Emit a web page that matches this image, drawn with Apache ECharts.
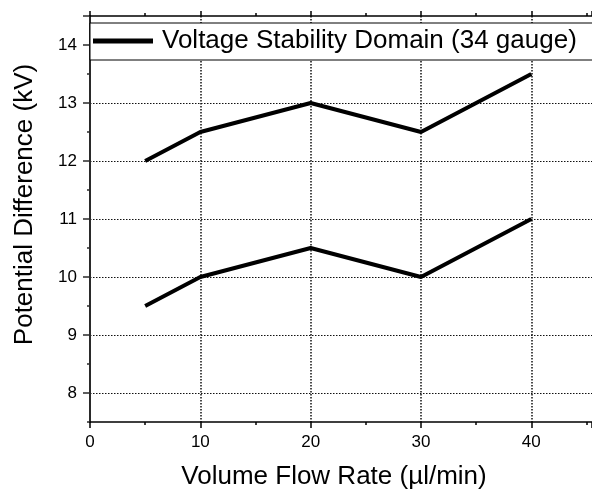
<!DOCTYPE html>
<html>
<head>
<meta charset="utf-8">
<script src="https://cdn.jsdelivr.net/npm/echarts@6/dist/echarts.min.js"></script>
<style>html,body{margin:0;padding:0;background:#fff}#c{width:592px;height:491px}</style>
</head>
<body>
<div id="c"></div>
<script>
// Data
const flowRates = [5, 10, 20, 30, 40];
const upperVoltage = [12, 12.5, 13, 12.5, 13.5];
const lowerVoltage = [9.5, 10, 10.5, 10, 11];
const seriesName = 'Voltage Stability Domain (34 gauge)';
const xTitle = 'Volume Flow Rate (\u00b5l/min)';
const yTitle = 'Potential Difference (kV)';
const xMin = 0, xMax = 45.5;
const yMin = 7.5, yMax = 14.5;

const FONT = '"Liberation Sans", Arial, sans-serif';
const chart = echarts.init(document.getElementById('c'), null, {renderer: 'canvas'});

function pairs(xs, ys) { return xs.map((x, i) => [x, ys[i]]); }
const isInt = v => Math.abs(v - Math.round(v)) < 1e-6;

const gridBase = {left: 90, top: 16, right: 0, containLabel: false, outerBoundsMode: 'none'};

const option = {
  backgroundColor: '#fff',
  animation: false,
  grid: [
    Object.assign({}, gridBase, {bottom: 69}),
    Object.assign({}, gridBase, {bottom: 69}),
    Object.assign({}, gridBase, {bottom: 98})
  ],
  legend: {
    show: true,
    data: [seriesName],
    left: 90, top: 23,
    icon: 'rect', itemWidth: 60, itemHeight: 5,
    padding: [5, 40, 6, 3],
    borderColor: '#000', borderWidth: 1, backgroundColor: '#fff',
    textStyle: {fontFamily: FONT, fontSize: 26, color: '#000', padding: [0, 0, 0, 4]},
    itemStyle: {color: '#000'}
  },
  xAxis: [{
    // main bottom axis: minor ticks every 5, grid lines at 10s
    gridIndex: 0, type: 'value', position: 'bottom',
    min: xMin, max: xMax, interval: 5,
    axisLine: {show: true, onZero: false, lineStyle: {color: '#000', width: 1.5}},
    axisTick: {show: true, inside: false, length: 3, lineStyle: {color: '#000', width: 1.5}},
    axisLabel: {show: false},
    splitLine: {show: true, showMaxLine: false, lineStyle: {color: ['#111', 'transparent'], width: 1.5, type: [1.5, 1.5]}}
  }, {
    gridIndex: 0, type: 'value', position: 'top',
    min: xMin, max: xMax, interval: 5,
    axisLine: {show: true, onZero: false, lineStyle: {color: '#000', width: 1.5}},
    axisTick: {show: true, inside: false, length: 3, lineStyle: {color: '#000', width: 1.5}},
    axisLabel: {show: false},
    splitLine: {show: false}
  }, {
    // major ticks + labels at 10s
    gridIndex: 1, type: 'value', position: 'bottom',
    min: xMin, max: xMax, interval: 10,
    axisLine: {show: true, onZero: false, lineStyle: {color: 'rgba(0,0,0,0)', width: 1}},
    axisTick: {show: true, inside: false, length: 6, lineStyle: {color: '#000', width: 1.5}},
    axisLabel: {
      show: true, margin: 12, fontFamily: FONT, fontSize: 17, color: '#000',
      formatter: v => (v % 10 === 0) ? String(v) : ''
    },
    splitLine: {show: false},
    name: xTitle, nameLocation: 'middle', nameGap: 42,
    nameTextStyle: {fontFamily: FONT, fontSize: 26, color: '#000', padding: [0, 14, 0, 0]}
  }, {
    gridIndex: 1, type: 'value', position: 'top',
    min: xMin, max: xMax, interval: 10,
    axisLine: {show: true, onZero: false, lineStyle: {color: 'rgba(0,0,0,0)', width: 1}},
    axisTick: {show: true, inside: false, length: 5, lineStyle: {color: '#000', width: 1.5}},
    axisLabel: {show: false},
    splitLine: {show: false}
  }, {
    gridIndex: 2, type: 'value', show: false, min: xMin, max: xMax
  }],
  yAxis: [{
    // main left axis: minor ticks every 0.5, grid lines at integers
    gridIndex: 0, type: 'value', position: 'left',
    min: yMin, max: yMax, interval: 0.5,
    axisLine: {show: true, onZero: false, lineStyle: {color: '#2a2a2a', width: 2}},
    axisTick: {show: true, inside: false, length: 3, lineStyle: {color: '#2a2a2a', width: 1.5}},
    axisLabel: {show: false},
    splitLine: {show: true, lineStyle: {color: ['transparent', '#111'], width: 1, type: [1.5, 1.5]}}
  }, {
    gridIndex: 1, type: 'value', show: false, min: yMin, max: yMax
  }, {
    // major ticks + labels at integers
    gridIndex: 2, type: 'value', position: 'left',
    min: 8, max: yMax, interval: 1,
    axisLine: {show: true, onZero: false, lineStyle: {color: 'rgba(0,0,0,0)', width: 1}},
    axisTick: {show: true, inside: false, length: 7, lineStyle: {color: '#2a2a2a', width: 1.5}},
    axisLabel: {
      show: true, margin: 13, fontFamily: FONT, fontSize: 17, color: '#000',
      formatter: v => isInt(v) ? String(Math.round(v)) : ''
    },
    splitLine: {show: false},
    name: yTitle, nameLocation: 'middle', nameGap: 52,
    nameTextStyle: {fontFamily: FONT, fontSize: 26, color: '#000'}
  }],
  series: [{
    name: seriesName, type: 'line', xAxisIndex: 0, yAxisIndex: 0,
    data: pairs(flowRates, upperVoltage),
    showSymbol: false, symbol: 'none',
    lineStyle: {color: '#000', width: 4}, itemStyle: {color: '#000'}, z: 3
  }, {
    name: seriesName, type: 'line', xAxisIndex: 0, yAxisIndex: 0,
    data: pairs(flowRates, lowerVoltage),
    showSymbol: false, symbol: 'none',
    lineStyle: {color: '#000', width: 4}, itemStyle: {color: '#000'}, z: 3
  }]
};
chart.setOption(option);
</script>
</body>
</html>
